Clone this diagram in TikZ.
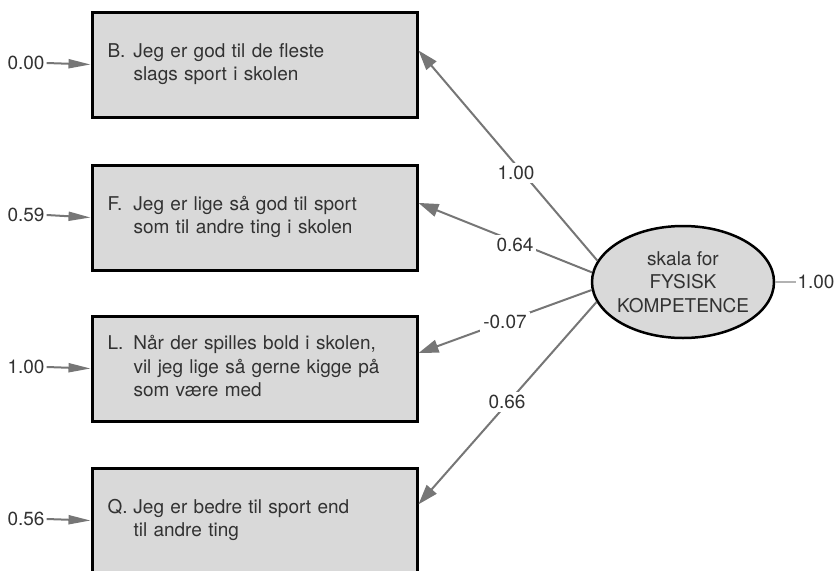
\documentclass[tikz,border=0pt]{standalone}
\usepackage{fontspec}
\setmainfont{TeX Gyre Heros}
\usetikzlibrary{arrows.meta,shapes.geometric,calc}
\definecolor{boxfill}{RGB}{217,217,217}
\definecolor{inktext}{RGB}{50,50,50}
\definecolor{pathgray}{RGB}{118,118,118}
\definecolor{residgray}{RGB}{178,178,178}

\newcommand{\itemtext}[3]{\begin{tabular}{@{}p{26pt}@{}l@{}}#1 & #2\\ & #3\end{tabular}}
\newcommand{\itemtextiii}[4]{\begin{tabular}{@{}p{26pt}@{}l@{}}#1 & #2\\ & #3\\ & #4\end{tabular}}

\begin{document}
\begin{tikzpicture}[x=1pt,y=-1pt,
  every node/.style={font=\fontsize{19}{23.5}\selectfont, text=inktext},
  itembox/.style={draw=black, line width=3pt, fill=boxfill, anchor=north west,
    minimum width=325pt, minimum height=105pt, text width=294pt,
    inner xsep=15.5pt, inner ysep=0pt, align=left},
  latent/.style={ellipse, draw=black, line width=2.5pt, fill=boxfill,
    minimum width=182pt, minimum height=112pt, inner sep=-2pt, align=center},
  errlabel/.style={inner sep=2pt},
  coef/.style={fill=white, inner sep=3pt},
  errarrow/.style={draw=pathgray, line width=2pt,
    -{Triangle[length=22pt,width=9pt,fill=pathgray]}},
  loading/.style={draw=pathgray, line width=2pt,
    -{Triangle[length=20pt,width=13pt,fill=pathgray]}},
  resid/.style={draw=residgray, line width=1.5pt}]
\useasboundingbox (0,0) rectangle (837,570);

% observed items
\node[itembox] (B) at (90.5,10.5)
  {\itemtext{B.}{Jeg er god til de fleste}{slags sport i skolen}};
\node[itembox] (F) at (90.5,163.5)
  {\itemtext{F.}{Jeg er lige så god til sport}{som til andre ting i skolen}};
\node[itembox] (L) at (90.5,314.5)
  {\itemtextiii{L.}{Når der spilles bold i skolen,}{vil jeg lige så gerne kigge på}{som være med}};
\node[itembox] (Q) at (90.5,466.5)
  {\itemtext{Q.}{Jeg er bedre til sport end}{til andre ting}};

% error terms
\node[errlabel] (eB) at (26,63) {0.00};
\node[errlabel] (eF) at (26,215) {0.59};
\node[errlabel] (eL) at (26,367) {1.00};
\node[errlabel] (eQ) at (26,519) {0.56};
\draw[errarrow] (eB.east) -- (B.west);
\draw[errarrow] (eF.east) -- (F.west);
\draw[errarrow] (eL.east) -- (L.west);
\draw[errarrow] (eQ.east) -- (Q.west);

% latent factor
\node[latent] (lat) at (683,282) {skala for\\FYSISK\\KOMPETENCE};
\node[inner sep=1pt] (eLat) at (816,282) {1.00};
\draw[resid] (lat.east) -- (eLat.west);

% loadings
\draw[loading] (lat.166) -- ($(B.north east)!0.37!(B.south east)$);
\draw[loading] (lat.174) -- ($(F.north east)!0.365!(F.south east)$);
\draw[loading] (lat.185) -- ($(L.north east)!0.357!(L.south east)$);
\draw[loading] (lat.193) -- ($(Q.north east)!0.35!(Q.south east)$);

\node[coef] (cB) at (516,173) {1.00};
\node[coef] (cF) at (515,245) {0.64};
\node[coef] (cL) at (505,322) {-0.07};
\node[coef] (cQ) at (507,402) {0.66};
\end{tikzpicture}
\end{document}
